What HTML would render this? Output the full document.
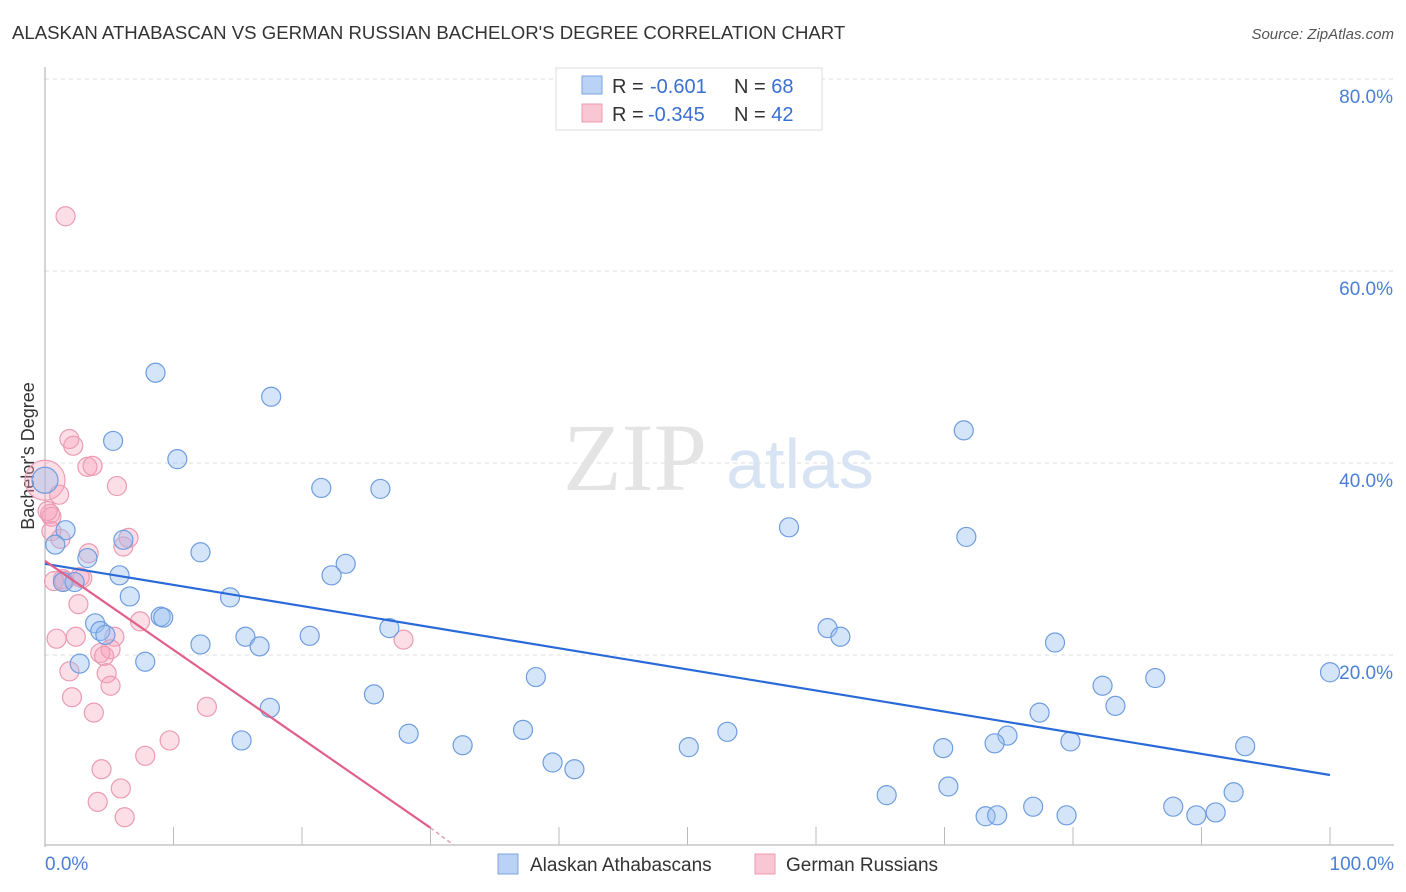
<!DOCTYPE html>
<html><head><meta charset="utf-8"><style>
body{margin:0;background:#fff;font-family:"Liberation Sans",sans-serif}
svg{display:block}
</style></head><body>
<svg width="1406" height="892" viewBox="0 0 1406 892">
<text x="12" y="39" font-size="18.6" fill="#333">ALASKAN ATHABASCAN VS GERMAN RUSSIAN BACHELOR'S DEGREE CORRELATION CHART</text>
<text x="1394" y="39" font-size="15" fill="#555" font-style="italic" text-anchor="end">Source: ZipAtlas.com</text>
<g id="grid"></g>
<text x="635" y="490" font-size="96" fill="#e4e4e4" font-family="Liberation Serif,serif" text-anchor="middle">ZIP</text>
<text x="800" y="488" font-size="70" fill="#d8e4f4" text-anchor="middle">atlas</text>
<text transform="translate(34,456) rotate(-90)" font-size="18" fill="#333" text-anchor="middle">Bachelor's Degree</text>
<g id="pts"></g>
<g id="lines"></g>
<g>
<rect x="556" y="68" width="266" height="62" fill="#fff" stroke="#ddd"/>
<rect x="582" y="76" width="20" height="18" fill="#b9d2f5" stroke="#7ea6e0"/>
<rect x="582" y="104" width="20" height="18" fill="#f9c6d4" stroke="#ec9bb3"/>
<text x="612" y="93" font-size="20" fill="#333">R = <tspan x="650" fill="#3a70d0">-0.601</tspan><tspan x="734">N = </tspan><tspan fill="#3a70d0">68</tspan></text>
<text x="612" y="121" font-size="20" fill="#333">R = <tspan x="648" fill="#3a70d0">-0.345</tspan><tspan x="734">N = </tspan><tspan fill="#3a70d0">42</tspan></text>
</g>
<g>
<rect x="498" y="854" width="20" height="20" fill="#b9d2f5" stroke="#7ea6e0"/>
<text x="530" y="871" font-size="19" fill="#333">Alaskan Athabascans</text>
<rect x="755" y="854" width="20" height="20" fill="#f9c6d4" stroke="#ec9bb3"/>
<text x="786" y="871" font-size="19" fill="#333">German Russians</text>
</g>
</svg>
<script>
const yTicks=[20,40,60,80];
const xTickLabels=["0.0%","100.0%"];
const blueX=[8.6,17.6,5.3,10.3,71.5,21.5,26.1,0,1.6,0.8,6.1,3.3,12.1,57.9,71.7,23.4,22.3,5.8,1.4,2.3,6.6,14.4,9.0,9.2,3.9,4.3,4.7,15.6,20.6,12.1,16.7,26.8,60.9,61.9,78.6,2.7,7.8,38.2,100,86.4,25.6,82.3,83.3,17.5,77.4,37.2,53.1,28.3,15.3,74.9,73.9,79.8,32.5,50.1,69.9,93.4,39.5,41.2,70.3,65.5,92.5,76.9,87.8,73.2,74.1,79.5,89.6,91.1];
const blueY=[49.4,46.9,42.3,40.4,43.4,37.4,37.3,38.2,33.0,31.5,32.0,30.1,30.7,33.3,32.3,29.5,28.3,28.3,27.6,27.6,26.1,26.0,24.0,23.9,23.3,22.5,22.1,21.9,22.0,21.1,20.9,22.8,22.8,21.9,21.3,19.1,19.3,17.7,18.2,17.6,15.9,16.8,14.7,14.5,14.0,12.2,12.0,11.8,11.1,11.6,10.8,11.0,10.6,10.4,10.3,10.5,8.8,8.1,6.3,5.4,5.7,4.2,4.2,3.2,3.3,3.3,3.3,3.6];
const pinkX=[1.6,1.9,2.2,3.3,3.7,5.6,0,1.1,0.4,0.5,0.5,1.2,3.4,6.1,6.5,1.4,2.9,2.7,2.6,7.4,0.9,2.4,5.4,5.1,4.3,4.6,4.8,5.1,1.9,27.9,2.1,3.8,12.6,9.7,7.8,4.4,4.1,5.9,6.2,1.5,0.7,0.2];
const pinkY=[65.7,42.5,41.8,39.6,39.7,37.6,38.2,36.7,34.7,34.4,32.9,32.1,30.6,31.3,32.2,27.9,28.0,28.1,25.3,23.5,21.7,21.9,21.9,20.6,20.2,19.9,18.1,16.8,18.3,21.6,15.6,14.0,14.6,11.1,9.5,8.1,4.7,6.1,3.1,27.7,27.7,35.0];
const X=v=>45+v*12.85, Y=v=>847-v*9.6;
const NS="http://www.w3.org/2000/svg";
function mk(t,a,p){const e=document.createElementNS(NS,t);for(const k in a)e.setAttribute(k,a[k]);p.appendChild(e);return e;}
const grid=document.getElementById('grid');
for(const t of yTicks){
 const g=mk('line',{x1:45,x2:1394,y1:Y(t),y2:Y(t),stroke:'#ddd','stroke-dasharray':'4,4'},grid);
 
 
 const l=mk('text',{x:1393,y:Y(t)+24,'font-size':19,fill:'#4a7fd8','text-anchor':'end'},grid);
 l.textContent=t.toFixed(1)+'%';
 
 
}
mk('line',{x1:45,x2:45,y1:67,y2:847,stroke:'#aaa'},grid);
mk('line',{x1:45,x2:1394,y1:845,y2:845,stroke:'#aaa'},grid);
for(let i=1;i<=10;i++){mk('line',{x1:45+i*128.5,x2:45+i*128.5,y1:827,y2:845,stroke:'#bbb'},grid);}
xTickLabels.forEach((s,i)=>{const t=mk('text',{x:i?1394:45,y:870,'font-size':19,fill:'#4a7fd8','text-anchor':i?'end':'start'},grid);t.textContent=s;
 
 });
const pts=document.getElementById('pts');
pinkX.forEach((x,i)=>{const c=mk('circle',{cx:X(x),cy:Y(pinkY[i]),r:(x===0?20:9.5),fill:'rgba(245,160,185,0.35)',stroke:'#ec9bb3','stroke-width':1.2},pts);
 
 });
blueX.forEach((x,i)=>{const c=mk('circle',{cx:X(x),cy:Y(blueY[i]),r:(x===0?13:9.5),fill:'rgba(150,190,240,0.4)',stroke:'#6f9de0','stroke-width':1.2},pts);
 
 });
const L=document.getElementById('lines');
const bl=mk('line',{x1:X(0),y1:Y(29.5),x2:X(100),y2:Y(7.5),stroke:'#2a6ad8','stroke-width':2.2},L);


const pl=mk('line',{x1:X(0),y1:Y(29.8),x2:X(30),y2:Y(2),stroke:'#e0608a','stroke-width':2.2},L);


mk('line',{x1:X(30),y1:Y(2),x2:X(31.8),y2:Y(0.2),stroke:'#e0a0b5','stroke-width':1.5,'stroke-dasharray':'4,3'},L);
</script>
</body></html>
